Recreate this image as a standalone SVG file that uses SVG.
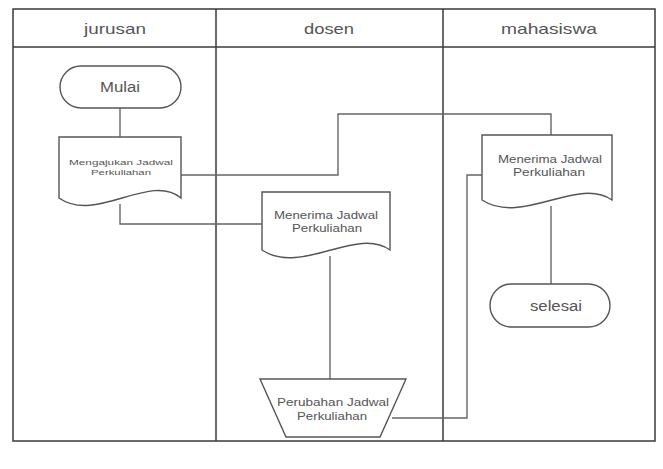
<svg xmlns="http://www.w3.org/2000/svg" width="663" height="469" viewBox="0 0 663 469">
<style>
.frame{fill:none;stroke:#3a3a3a;stroke-width:1.5}
.shape{fill:#fff;stroke:#555;stroke-width:1.4}
.conn{fill:none;stroke:#666;stroke-width:1.4}
text{font-family:"Liberation Sans",Arial,sans-serif;fill:#555;text-anchor:middle}
.hd{font-size:15px}
.term{font-size:14px}
.doc{font-size:10px}
.small{font-size:8px}
</style>
<rect width="663" height="469" fill="#fff"/>
<g id="lanes">
<rect class="frame" x="13" y="9" width="642" height="432"/>
<line class="frame" x1="13" y1="47" x2="655" y2="47"/>
<line class="frame" x1="216" y1="9" x2="216" y2="441"/>
<line class="frame" x1="443" y1="9" x2="443" y2="441"/>
<text class="hd" x="115" y="34" textLength="62" lengthAdjust="spacingAndGlyphs">jurusan</text>
<text class="hd" x="329" y="34" textLength="50" lengthAdjust="spacingAndGlyphs">dosen</text>
<text class="hd" x="549" y="34" textLength="96" lengthAdjust="spacingAndGlyphs">mahasiswa</text>
</g>
<g id="connectors">
<line class="conn" x1="120" y1="108" x2="120" y2="137"/>
<polyline class="conn" points="181,175 338,175 338,114 551,114 551,135"/>
<polyline class="conn" points="120,204 120,224 262,224"/>
<line class="conn" x1="330" y1="256" x2="330" y2="379"/>
<polyline class="conn" points="392,418 467,418 467,175 482,175"/>
<line class="conn" x1="551" y1="206" x2="551" y2="284"/>
</g>
<g id="mulai">
<rect class="shape" x="60" y="66" width="121" height="42" rx="21"/>
<text class="term" x="120" y="92" textLength="40" lengthAdjust="spacingAndGlyphs">Mulai</text>
</g>
<g id="mengajukan">
<path class="shape" d="M59,137 H181 V198 C150,172 96,224 59,198 Z"/>
<text class="small" x="121" y="165" textLength="104" lengthAdjust="spacingAndGlyphs">Mengajukan Jadwal</text>
<text class="small" x="121" y="175" textLength="60" lengthAdjust="spacingAndGlyphs">Perkuliahan</text>
</g>
<g id="menerima-dosen">
<path class="shape" d="M262,192 H390 V250 C357,226 301,276 262,250 Z"/>
<text class="doc" x="326" y="219" textLength="104" lengthAdjust="spacingAndGlyphs">Menerima Jadwal</text>
<text class="doc" x="327" y="232" textLength="70" lengthAdjust="spacingAndGlyphs">Perkuliahan</text>
</g>
<g id="perubahan">
<path class="shape" d="M260,379 H406 L380,437 H286 Z"/>
<text class="doc" x="333" y="406" textLength="112" lengthAdjust="spacingAndGlyphs">Perubahan Jadwal</text>
<text class="doc" x="332" y="420" textLength="70" lengthAdjust="spacingAndGlyphs">Perkuliahan</text>
</g>
<g id="menerima-mhs">
<path class="shape" d="M482,135 H612 V200 C578,176 522,226 482,200 Z"/>
<text class="doc" x="550" y="163" textLength="104" lengthAdjust="spacingAndGlyphs">Menerima Jadwal</text>
<text class="doc" x="549" y="176" textLength="72" lengthAdjust="spacingAndGlyphs">Perkuliahan</text>
</g>
<g id="selesai">
<rect class="shape" x="490" y="284" width="120" height="43" rx="21.5"/>
<text class="term" x="556" y="311" textLength="52" lengthAdjust="spacingAndGlyphs">selesai</text>
</g>
</svg>
